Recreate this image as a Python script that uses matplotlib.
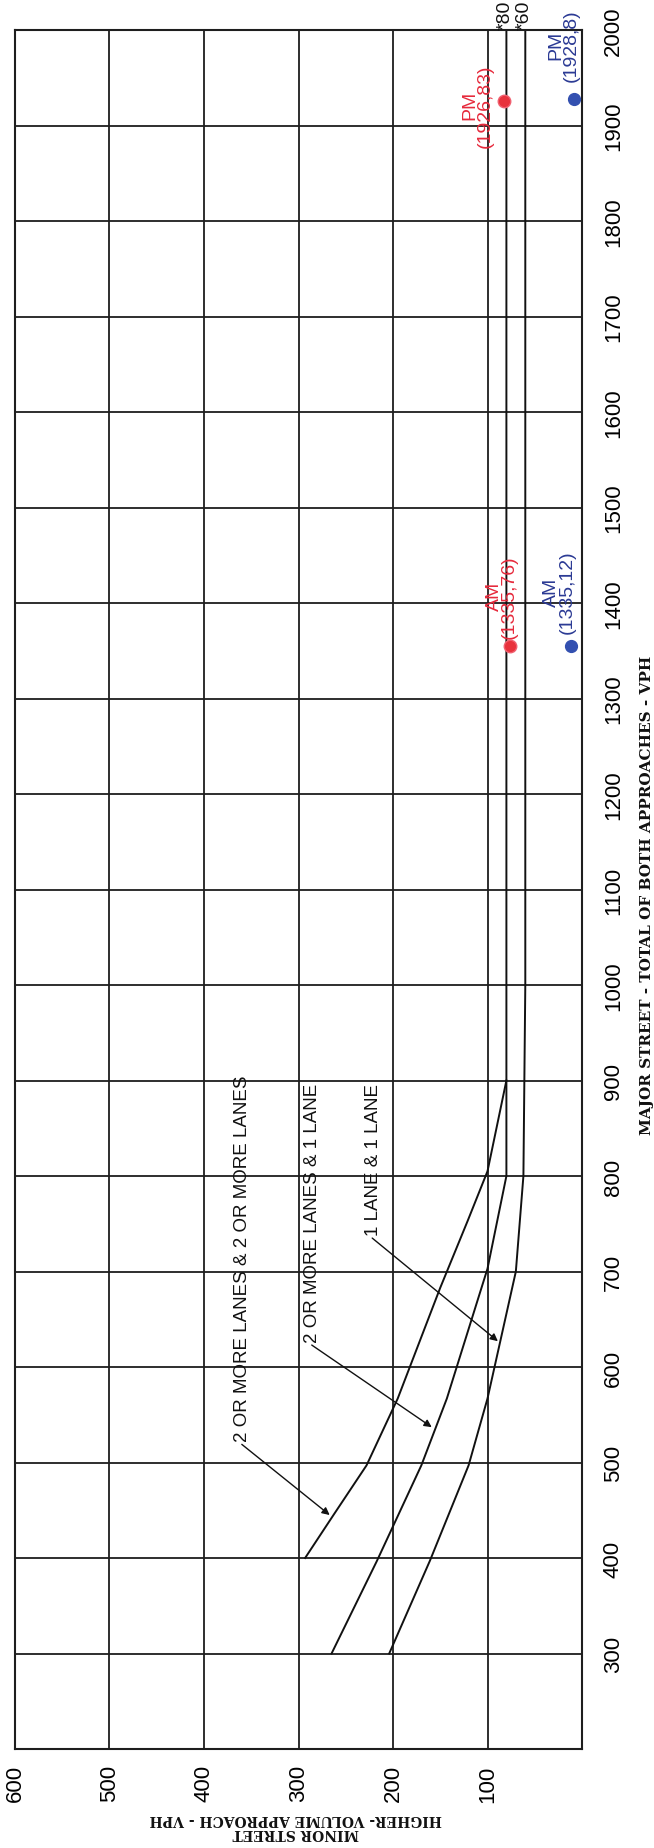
import matplotlib
matplotlib.use("Agg")
import matplotlib.pyplot as plt
import numpy as np

plt.rcParams['font.family'] = ['Liberation Sans', 'DejaVu Sans']

# warrant curves: (major street vph, minor street vph)
major_2l2l = [400, 445, 497, 567, 683, 753, 805, 900]
minor_2l2l = [293, 263, 228, 195, 150, 121, 100, 80]

major_2l1l = [300, 397, 497, 567, 703, 800, 2000]
minor_2l1l = [265, 217, 170, 143, 100, 80, 80]

major_1l1l = [300, 397, 497, 567, 700, 800, 1000, 2000]
minor_1l1l = [204, 161, 120, 100, 70, 62, 60, 60]

curve_labels = ["2 OR MORE LANES & 2 OR MORE LANES",
                "2 OR MORE LANES & 1 LANE",
                "1 LANE & 1 LANE"]
# text start (minor, major) and arrow tip (minor, major)
label_pos = [(359, 522), (285, 626), (221, 738)]
arrow_tip = [(267, 445), (159, 537), (89, 627)]

thresholds = [80, 60]

# counted volumes (dots as placed on the sheet)
red_major = [1355, 1926]
red_minor = [76, 83]
red_text = ["AM\n(1335,76)", "PM\n(1926,83)"]
blue_major = [1355, 1928]
blue_minor = [12, 8]
blue_text = ["AM\n(1335,12)", "PM\n(1928,8)"]

minor_ticks = [0, 100, 200, 300, 400, 500, 600]
major_ticks = list(range(200, 2001, 100))

fig = plt.figure(figsize=(6.54, 18.49), dpi=100)
W, H = 654, 1849
ax = fig.add_axes([15 / W, 99 / H, (582 - 15) / W, (1750 - 31) / H])

ax.set_xlim(600, 0)
ax.set_ylim(200, 2000)

ax.set_xticks(minor_ticks)
ax.set_xticklabels(['' if v == 0 else str(v) for v in minor_ticks])
ax.set_yticks(major_ticks)
ax.set_yticklabels(['' if v == 200 else str(v) for v in major_ticks])
ax.yaxis.tick_right()
ax.tick_params(axis='x', length=0, pad=11, labelsize=16, labelrotation=90)
ax.tick_params(axis='y', length=0, pad=15, labelsize=16, labelrotation=90)
for t in ax.get_yticklabels():
    t.set_va('center')
ax.grid(True, color='#1e1e1e', lw=1.3)
ax.set_axisbelow(True)
for s in ax.spines.values():
    s.set_color('#1e1e1e')
    s.set_linewidth(1.5)

for mj, mn in [(major_2l2l, minor_2l2l), (major_2l1l, minor_2l1l),
               (major_1l1l, minor_1l1l)]:
    ax.plot(mn, mj, color='#111111', lw=1.4, solid_joinstyle='round')

for txt, (tx, ty), (px, py) in zip(curve_labels, label_pos, arrow_tip):
    ax.text(tx, ty, txt, rotation=90, ha='center', va='bottom',
            fontsize=13.5, color='#111111')
    ax.annotate("", xy=(px, py), xytext=(tx + 1, ty - 3),
                arrowprops=dict(arrowstyle='-|>', color='#111111', lw=1.0,
                                mutation_scale=11, shrinkA=0, shrinkB=0))

for v in thresholds:
    ax.annotate('*%d' % v, xy=(v, 2000), xytext=(-1, 1), textcoords='offset points',
                rotation=90, ha='center', va='bottom', fontsize=14,
                color='#111111', annotation_clip=False)

# data points with labels
ax.plot(red_minor, red_major, 'o', color='#e8323c', ms=9, mec='#f06070', mew=1,
        clip_on=False, zorder=5)
ax.plot(blue_minor, blue_major, 'o', color='#3350b0', ms=8.5, clip_on=False, zorder=5)

red_off = [((-6, 6), 'center', 'bottom'), ((-7, -3), 'right', 'center')]
blue_off = [((-8, 9), 'center', 'bottom'), ((-8, 13), 'center', 'bottom')]
for mn, mj, txt, (off, ha, va) in zip(red_minor, red_major, red_text, red_off):
    ax.annotate(txt, xy=(mn, mj), xytext=off, textcoords='offset points',
                rotation=90, ha=ha, va=va, fontsize=14, color='#e62a3c',
                linespacing=0.9, multialignment='center', annotation_clip=False)
for mn, mj, txt, (off, ha, va) in zip(blue_minor, blue_major, blue_text, blue_off):
    ax.annotate(txt, xy=(mn, mj), xytext=off, textcoords='offset points',
                rotation=90, ha=ha, va=va, fontsize=14, color='#2b3a94',
                linespacing=0.9, multialignment='center', annotation_clip=False)

# axis titles (drawing is turned on its side)
fig.text(296 / W, 1 - 1826 / H, "MINOR STREET\nHIGHER- VOLUME APPROACH - VPH",
         rotation=180, ha='center', va='center', fontsize=10, fontweight='bold',
         family='DejaVu Serif', linespacing=1.05, color='#111111')
fig.text(647 / W, 1 - 895 / H, "MAJOR STREET - TOTAL OF BOTH APPROACHES - VPH",
         rotation=90, ha='center', va='center', fontsize=11, fontweight='bold',
         family='DejaVu Serif', color='#111111')

fig.savefig('out.png', dpi=100, facecolor='white')
